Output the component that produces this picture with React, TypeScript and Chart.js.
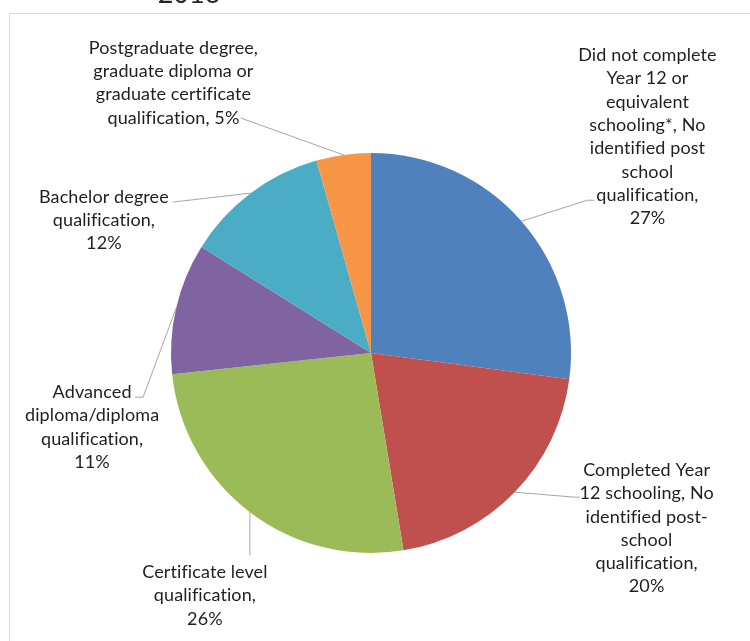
import React, { useEffect, useRef } from "react";
import { Chart, registerables } from "chart.js";

Chart.register(...registerables);

// ---- data ----
const categories = [
  "Did not complete Year 12 or equivalent schooling*, No identified post school qualification",
  "Completed Year 12 schooling, No identified post-school qualification",
  "Certificate level qualification",
  "Advanced diploma/diploma qualification",
  "Bachelor degree qualification",
  "Postgraduate degree, graduate diploma or graduate certificate qualification",
];
const shares = [27.1, 20.3, 25.9, 10.6, 11.7, 4.4];
const percentLabels = ["27%", "20%", "26%", "11%", "12%", "5%"];
const titleText = "2016";

// ---- styles / layout ----
const colors = ["#4F81BD", "#C0504D", "#9BBB59", "#8064A2", "#4BACC6", "#F79646"];
const labelLines = [
  ["Did not complete", "Year 12 or", "equivalent", "schooling*, No", "identified post", "school", "qualification,", percentLabels[0]],
  ["Completed Year", "12 schooling, No", "identified post-", "school", "qualification,", percentLabels[1]],
  ["Certificate level", "qualification,", percentLabels[2]],
  ["Advanced", "diploma/diploma", "qualification,", percentLabels[3]],
  ["Bachelor degree", "qualification,", percentLabels[4]],
  ["Postgraduate degree,", "graduate diploma or", "graduate certificate", "qualification, " + percentLabels[5]],
];
// offsets relative to the slice's outer mid-point
const labelLayout = [
  { lead: [[66, -21], [73, -21]], dx: 126, dy: -166 },
  { lead: [[60, 5], [65, 5]], dx: 132, dy: -22 },
  { lead: [[0, 43]], dx: -45, dy: 60 },
  { lead: [[-33, 89], [-41, 89]], dx: -84, dy: 84 },
  { lead: [[-78, 9]], dx: -147, dy: 4 },
  { lead: [[-103, -37]], dx: -170, dy: -107 },
];
const FONT = "18px Lato";
const LINE_H = 23.3;

const decorPlugin = {
  id: "decor",
  beforeDraw(chart: any) {
    const ctx = chart.ctx;
    ctx.save();
    ctx.fillStyle = "#ffffff";
    ctx.fillRect(0, 0, chart.width, chart.height);
    ctx.strokeStyle = "#d9d9d9";
    ctx.lineWidth = 1;
    ctx.strokeRect(9.5, 13.5, chart.width + 20, chart.height + 20);
    ctx.fillStyle = "#262626";
    ctx.font = "27px Lato";
    ctx.textAlign = "center";
    ctx.textBaseline = "alphabetic";
    ctx.fillText(titleText, 189, 3);
    ctx.restore();
  },
  afterDraw(chart: any) {
    const ctx = chart.ctx;
    const meta = chart.getDatasetMeta(0);
    ctx.save();
    meta.data.forEach((arc: any, i: number) => {
      const p = arc.getProps(["x", "y", "startAngle", "endAngle", "outerRadius"], true);
      const mid = (p.startAngle + p.endAngle) / 2;
      const ax = p.x + Math.cos(mid) * p.outerRadius;
      const ay = p.y + Math.sin(mid) * p.outerRadius;
      const lay = labelLayout[i];
      ctx.strokeStyle = "#a6a6a6";
      ctx.lineWidth = 1;
      ctx.beginPath();
      ctx.moveTo(ax, ay);
      lay.lead.forEach(([dx, dy]) => ctx.lineTo(ax + dx, ay + dy));
      ctx.stroke();
      ctx.fillStyle = "#1f1f1f";
      ctx.font = FONT;
      try {
        (ctx as any).letterSpacing = "0.1px";
      } catch (e) {}
      ctx.textAlign = "center";
      ctx.textBaseline = "middle";
      labelLines[i].forEach((line, k) => {
        ctx.fillText(line, ax + lay.dx, ay + lay.dy + k * LINE_H);
      });
      try {
        (ctx as any).letterSpacing = "0px";
      } catch (e) {}
    });
    ctx.restore();
  },
};

export default function App() {
  const ref = useRef<HTMLCanvasElement | null>(null);
  useEffect(() => {
    if (!ref.current) return;
    const chart = new Chart(ref.current, {
      type: "pie",
      data: {
        labels: categories,
        datasets: [
          {
            data: shares,
            backgroundColor: colors,
            borderWidth: 0,
          },
        ],
      },
      options: {
        responsive: false,
        animation: false,
        layout: { padding: { left: 171, right: 179, top: 153, bottom: 88 } },
        plugins: {
          legend: { display: false },
          tooltip: { enabled: false },
          title: { display: false },
        },
      },
      plugins: [decorPlugin],
    });
    return () => chart.destroy();
  }, []);
  return (
    <div style={{ position: "absolute", left: 0, top: 0, width: 750, height: 641 }}>
      <canvas ref={ref} width={750} height={641} style={{ display: "block" }} />
    </div>
  );
}
